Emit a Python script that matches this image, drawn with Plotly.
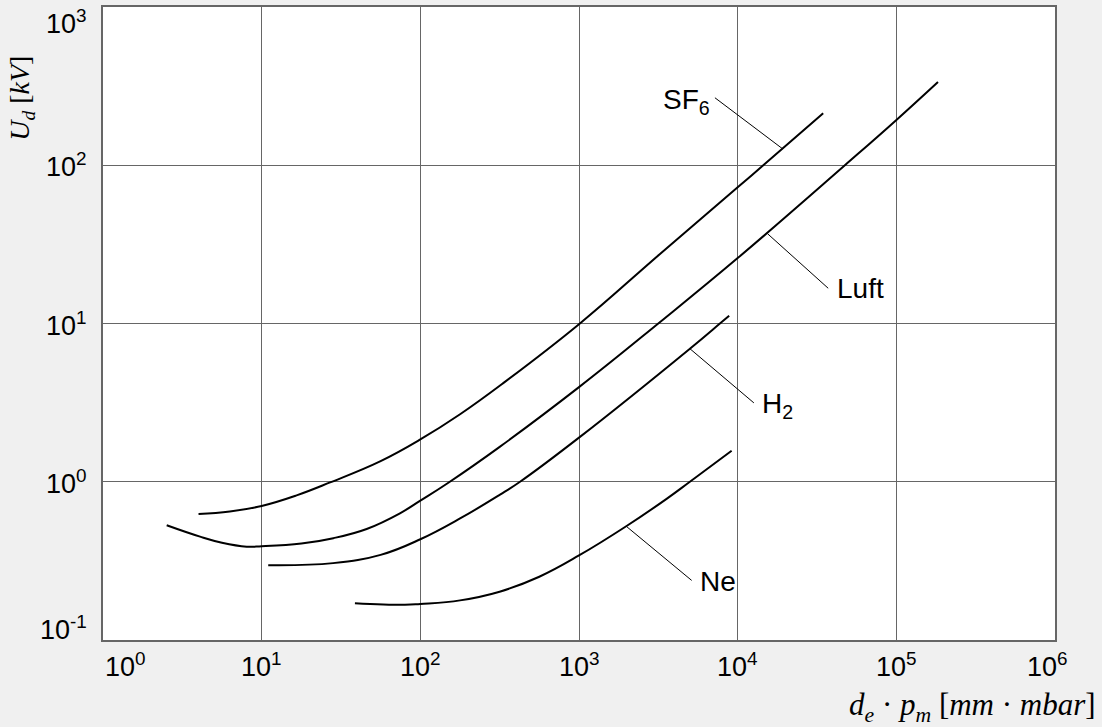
import numpy as np
import plotly.graph_objects as go

# ---- data ----
sf6_x = [4, 6.3, 10, 16.6, 27, 56.2, 100, 178, 333, 1000, 3240, 10000, 14500, 34600]
sf6_y = [0.626, 0.649, 0.703, 0.82, 0.99, 1.35, 1.85, 2.67, 4.2, 9.9, 27.5, 72.5, 100.0, 213.0]

luft_x = [2.52, 4.09, 5.62, 8.05, 10, 17.8, 28.3, 45.9, 74.4, 100, 151, 318, 1000, 3160,
          10000, 47400, 99300, 183000]
luft_y = [0.531, 0.45, 0.412, 0.389, 0.391, 0.407, 0.44, 0.503, 0.632, 0.759, 0.989, 1.667,
          3.96, 10.0, 25.9, 100.0, 192.0, 336.0]

h2_x = [11, 28.2, 56.2, 100, 178, 316, 425, 1000, 5000, 7730, 8840]
h2_y = [0.297, 0.306, 0.345, 0.433, 0.586, 0.826, 1.0, 1.9, 6.93, 10.0, 11.2]

ne_x = [38.7, 80, 100, 178, 316, 562, 1000, 1995, 3565, 5000, 9160]
ne_y = [0.171, 0.167, 0.169, 0.178, 0.202, 0.251, 0.342, 0.525, 0.78, 1.0, 1.57]

# label texts, pointer segments (data coordinates) and label anchor points
labels = ["SF<sub>6</sub>", "Luft", "H<sub>2</sub>", "Ne"]
pointer_x = [[7190, 19200], [15400, 37200], [5000, 12650], [2000, 5130]]
pointer_y = [[267, 127], [37, 16.7], [6.93, 3.15], [0.52, 0.238]]
label_x = [6880, 41000, 13800, 5610]
label_y = [254, 16.6, 3.04, 0.233]
label_anchor = ["right", "left", "left", "left"]

x_tick_exp = [0, 1, 2, 3, 4, 5, 6]
x_tick_text = ["10<sup>0</sup>", "10<sup>1</sup>", "10<sup>2</sup>", "10<sup>3</sup>",
               "10<sup>4</sup>", "10<sup>5</sup>", "10<sup>6</sup>"]
y_tick_exp = [-1, 0, 1, 2, 3]
y_tick_text = ["10<sup>-1</sup>", "10<sup>0</sup>", "10<sup>1</sup>", "10<sup>2</sup>", "10<sup>3</sup>"]

# ---- styling ----
FONT = "Arial, Liberation Sans, sans-serif"
MATH = "Cambria Math, Liberation Serif, DejaVu Serif, serif"
x_label_shift = {0: 22, 6: -8}
y_label_shift = {-1: 12, 3: -15}

fig = go.Figure()
for xs, ys in [(sf6_x, sf6_y), (luft_x, luft_y), (h2_x, h2_y), (ne_x, ne_y)]:
    fig.add_trace(go.Scatter(x=xs, y=ys, mode="lines",
                             line=dict(color="black", width=2, shape="spline", smoothing=1.2),
                             hoverinfo="skip", showlegend=False))

for px, py in zip(pointer_x, pointer_y):
    fig.add_trace(go.Scatter(x=px, y=py, mode="lines",
                             line=dict(color="black", width=1),
                             hoverinfo="skip", showlegend=False))

annotations = []
for t, lx, ly, anc in zip(labels, label_x, label_y, label_anchor):
    annotations.append(dict(x=np.log10(lx), y=np.log10(ly), xref="x", yref="y",
                            text=t, showarrow=False, xanchor=anc, yanchor="middle",
                            font=dict(family=FONT, size=28, color="black")))

for e, t in zip(x_tick_exp, x_tick_text):
    annotations.append(dict(x=e, y=0, xref="x", yref="paper", text=t, showarrow=False,
                            xanchor="center", yanchor="top", yshift=-6,
                            xshift=x_label_shift.get(e, 0),
                            font=dict(family=FONT, size=27, color="black")))

for e, t in zip(y_tick_exp, y_tick_text):
    annotations.append(dict(x=0, y=e, xref="paper", yref="y", text=t, showarrow=False,
                            xanchor="right", yanchor="middle", xshift=-14,
                            yshift=y_label_shift.get(e, 0),
                            font=dict(family=FONT, size=27, color="black")))

annotations.append(dict(x=0, y=0.855, xref="paper", yref="paper", xanchor="center",
                        yanchor="middle", xshift=-81, textangle=-90, showarrow=False,
                        text="<i>U<sub>d</sub></i> [<i>kV</i>]",
                        font=dict(family=MATH, size=28, color="black")))
annotations.append(dict(x=1, y=0, xref="paper", yref="paper", xanchor="right",
                        yanchor="middle", xshift=43, yshift=-67, showarrow=False,
                        text="<i>d<sub>e</sub></i> · <i>p<sub>m</sub></i> [<i>mm</i> · <i>mbar</i>]",
                        font=dict(family=MATH, size=31, color="black")))

axis_common = dict(type="log", showgrid=True, gridcolor="#666666", gridwidth=1,
                   showline=True, linecolor="#666666", linewidth=1.5, mirror=True,
                   ticks="", showticklabels=False, zeroline=False, dtick=1)

fig.update_layout(
    width=1102, height=727,
    margin=dict(l=103, r=47, t=5, b=87),
    paper_bgcolor="#f0f0f0", plot_bgcolor="white",
    xaxis=dict(range=[0, 6], **axis_common),
    yaxis=dict(range=[-1, 3], **axis_common),
    annotations=annotations,
    showlegend=False,
)

fig.write_html("out.html", config={"displayModeBar": False},
               post_script="document.body.style.margin='0';")
